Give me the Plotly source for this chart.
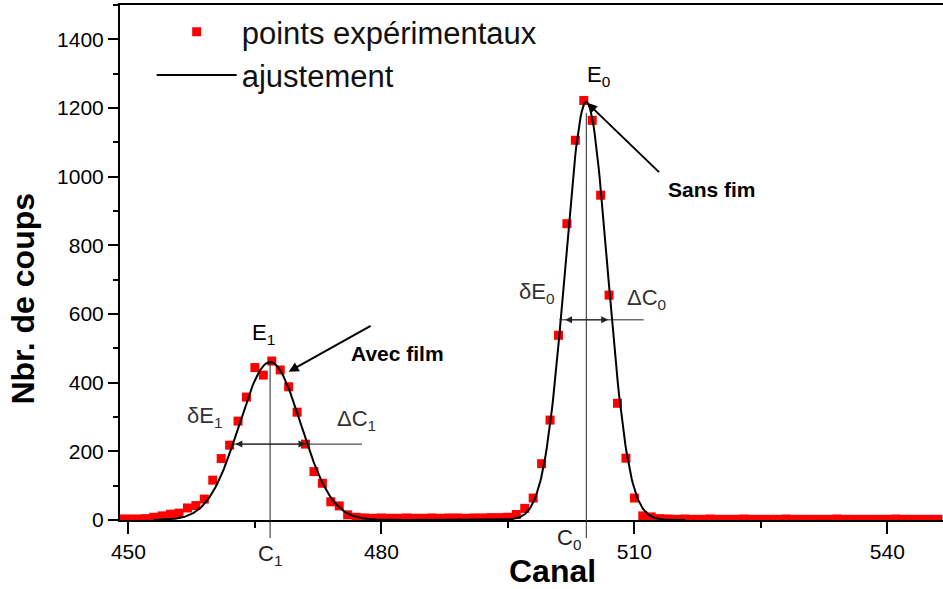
import numpy as np
import plotly.graph_objects as go

# Measured spectrum: counts per channel
CHANNELS = list(range(449, 547))
COUNTS = [
    3, 3, 3, 4, 8, 12, 17, 20, 35, 42,
    61, 116, 179, 218, 288, 358, 444, 422, 463, 437,
    388, 314, 221, 141, 107, 53, 41, 15, 8, 6,
    5, 6, 5, 5, 6, 5, 5, 6, 5, 6,
    6, 5, 6, 6, 7, 7, 8, 16, 34, 64,
    164, 291, 538, 863, 1106, 1222, 1164, 946, 655, 340,
    180, 64, 12, 9, 4, 3, 2, 3, 2, 2,
    3, 2, 2, 2, 3, 2, 2, 2, 2, 3,
    2, 2, 2, 2, 2, 3, 2, 2, 2, 2,
    2, 2, 3, 2, 2, 2, 2, 2,
]

# Gaussian fit parameters: peak with film (1) and without film (0)
FIT_CENTRES = [466.8, 504.3]
FIT_HEIGHTS = [460, 1218]
FIT_SIGMAS = [3.65, 2.5]
FIT_RANGE = [453, 516]

# Top of the centre markers (counts)
CENTRE_TOPS = [457, 1185]

# Half-maximum levels and arrow extents (channel, counts)
FWHM1_LEVEL, FWHM1_LEFT, FWHM1_RIGHT, FWHM1_END = 221, 462.5, 471.0, 477.7
FWHM0_LEVEL, FWHM0_LEFT, FWHM0_RIGHT, FWHM0_START, FWHM0_END = 583, 501.6, 506.9, 501.1, 511.1

FONT = "Liberation Sans, Arial, sans-serif"

x_fit = np.linspace(FIT_RANGE[0], FIT_RANGE[1], 500)
y_fit = np.zeros_like(x_fit)
for c, h, s in zip(FIT_CENTRES, FIT_HEIGHTS, FIT_SIGMAS):
    y_fit += h * np.exp(-((x_fit - c) ** 2) / (2 * s ** 2))

fig = go.Figure()
fig.add_trace(go.Scatter(
    x=CHANNELS, y=COUNTS, mode="markers", name="points expérimentaux",
    marker=dict(symbol="square", size=9, color="#ff0000", line=dict(width=0)),
))
fig.add_trace(go.Scatter(
    x=x_fit, y=y_fit, mode="lines", name="ajustement",
    line=dict(color="black", width=2),
))

ann = []
shapes = []


def label(text, x, y, size=22, color="black", bold=False, xanchor="left"):
    if bold:
        text = "<b>" + text + "</b>"
    ann.append(dict(x=x, y=y, xref="x", yref="y", text=text, showarrow=False,
                    xanchor=xanchor, yanchor="middle",
                    font=dict(family=FONT, size=size, color=color)))


def arrow(x0, y0, x1, y1, width=1, color="#222", side="end", size=1):
    ann.append(dict(x=x1, y=y1, ax=x0, ay=y0, xref="x", yref="y", axref="x", ayref="y",
                    text="", showarrow=True, arrowhead=2, startarrowhead=2,
                    arrowside=side, arrowsize=size, startarrowsize=size,
                    arrowwidth=width, arrowcolor=color, standoff=0, startstandoff=0))


def hline(x0, x1, y):
    shapes.append(dict(type="line", xref="x", yref="y", x0=x0, x1=x1, y0=y, y1=y,
                       line=dict(color="#222", width=1)))


def centre_line(x, top):
    # part inside the plot, plus a short tail below the axis
    shapes.append(dict(type="line", xref="x", yref="y", x0=x, x1=x, y0=0, y1=top,
                       line=dict(color="#222", width=1)))
    shapes.append(dict(type="line", xref="x", yref="paper", x0=x, x1=x, y0=0, y1=-0.035,
                       line=dict(color="#222", width=1)))


# Peak labels
label("E<sub>0</sub>", 504.15, 1292)
label("E<sub>1</sub>", 464.4, 541)
label("δE<sub>1</sub>", 456.7, 300, color="#333")
label("ΔC<sub>1</sub>", 474.5, 290, color="#333")
label("δE<sub>0</sub>", 496.1, 661, color="#333")
label("ΔC<sub>0</sub>", 508.9, 645, color="#333")
label("Sans fim", 513.7, 962, size=21, bold=True)
label("Avec film", 476.1, 485, size=21, bold=True)

# Channel labels under the axis
ann.append(dict(x=FIT_CENTRES[0], y=0, xref="x", yref="paper", text="C<sub>1</sub>",
                showarrow=False, xanchor="center", yanchor="top", yshift=-19,
                font=dict(family=FONT, size=22, color="#222")))
ann.append(dict(x=FIT_CENTRES[1] - 0.4, y=0, xref="x", yref="paper", text="C<sub>0</sub>",
                showarrow=False, xanchor="right", yanchor="top", yshift=-2,
                height=30, font=dict(family=FONT, size=22, color="#222")))

# Vertical lines at the peak centres
centre_line(FIT_CENTRES[0], CENTRE_TOPS[0])
centre_line(FIT_CENTRES[1], CENTRE_TOPS[1])

# Half-width arrows
hline(FWHM1_LEFT, FWHM1_END, FWHM1_LEVEL)
arrow(FWHM1_LEFT, FWHM1_LEVEL, FWHM1_RIGHT, FWHM1_LEVEL, side="end+start", size=1.4)
hline(FWHM0_START, FWHM0_END, FWHM0_LEVEL)
arrow(FWHM0_LEFT, FWHM0_LEVEL, FWHM0_RIGHT, FWHM0_LEVEL, side="end+start", size=1.4)

# Pointers to the two peaks
arrow(513.1, 1009, 504.4, 1215, width=2, color="black")
arrow(478.9, 568, 469.0, 432, width=2, color="black")

# Axis titles
ann.append(dict(x=0.526, y=0, xref="paper", yref="paper", text="<b>Canal</b>",
                showarrow=False, xanchor="center", yanchor="middle", yshift=-51,
                height=28, font=dict(family=FONT, size=32, color="black")))
ann.append(dict(x=0, y=0.43, xref="paper", yref="paper", text="<b>Nbr. de coups</b>",
                showarrow=False, xanchor="center", yanchor="middle", xshift=-97,
                textangle=-90, font=dict(family=FONT, size=32, color="black")))

fig.update_layout(
    width=943, height=589,
    margin=dict(l=120, r=0, t=5, b=69),
    paper_bgcolor="white", plot_bgcolor="white",
    font=dict(family=FONT, color="black"),
    showlegend=True,
    legend=dict(x=0.0385, y=1.0, xanchor="left", yanchor="top",
                bgcolor="rgba(0,0,0,0)", borderwidth=0,
                itemwidth=80,
                font=dict(family=FONT, size=31, color="#111")),
    annotations=ann,
    shapes=shapes,
)
fig.update_xaxes(
    range=[449.0, 546.6], showline=True, linewidth=2, linecolor="black", mirror=True,
    showgrid=False, zeroline=False, layer="below traces",
    tickmode="linear", tick0=450, dtick=30,
    ticks="outside", ticklen=12, tickwidth=2, tickcolor="black",
    tickfont=dict(family=FONT, size=21, color="black"),
    minor=dict(dtick=15, tick0=450, ticks="outside", ticklen=6, tickwidth=2, tickcolor="black"),
)
fig.update_yaxes(
    range=[0, 1500], showline=True, linewidth=2, linecolor="black", mirror=False,
    showgrid=False, zeroline=False,
    tickmode="linear", tick0=0, dtick=200,
    ticks="outside", ticklen=10, tickwidth=2, tickcolor="black",
    tickfont=dict(family=FONT, size=21, color="black"),
    minor=dict(dtick=100, tick0=0, ticks="outside", ticklen=5, tickwidth=2, tickcolor="black"),
)

fig.write_html("out.html")
